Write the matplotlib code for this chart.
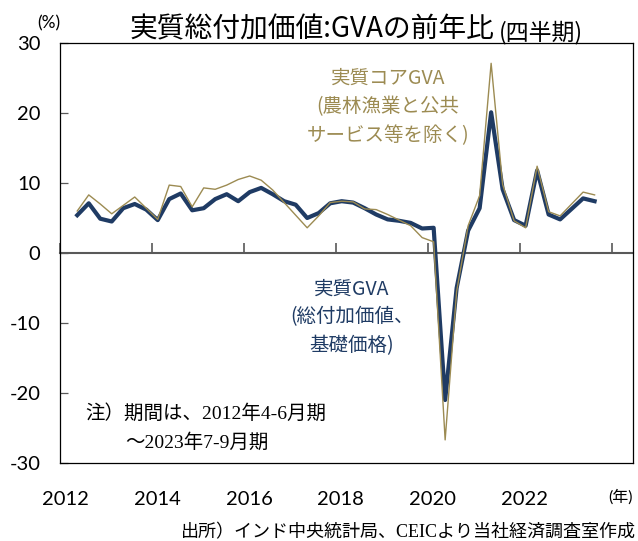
import matplotlib
matplotlib.use('Agg')
import matplotlib.pyplot as plt
import matplotlib.transforms as mtrans
import pandas as pd

# ---- data ----
quarters = pd.period_range('2012Q2', '2023Q3', freq='Q')
gva_real = [5.4, 7.1, 4.9, 4.5, 6.4, 7.0, 6.2, 4.7, 7.7, 8.5,
            6.1, 6.4, 7.7, 8.4, 7.4, 8.7, 9.3, 8.4, 7.4, 6.9,
            5.0, 5.7, 7.1, 7.4, 7.2, 6.4, 5.5, 4.8, 4.6, 4.3,
            3.5, 3.6, -21.0, -5.0, 3.2, 6.4, 20.1, 9.1, 4.7, 3.9,
            11.8, 5.5, 4.8, 6.3, 7.8, 7.4]
gva_core = [6.0, 8.3, 7.0, 5.6, 6.8, 8.0, 6.4, 4.8, 9.7, 9.5,
            6.6, 9.3, 9.1, 9.7, 10.5, 11.0, 10.4, 9.0, 7.2, 5.4,
            3.6, 5.3, 7.2, 7.4, 7.3, 6.3, 6.2, 5.5, 4.7, 3.9,
            2.2, 1.6, -26.7, -5.5, 3.9, 8.2, 27.1, 9.8, 4.6, 3.6,
            12.4, 5.9, 5.3, 7.0, 8.7, 8.3]
x_tick_years = [2012, 2014, 2016, 2018, 2020, 2022]
x_tick_marks = [2012, 2014, 2016, 2018, 2020, 2022, 2024]
y_ticks = [-30, -20, -10, 0, 10, 20, 30]

x = quarters.year + (quarters.quarter - 1) / 4 + 0.125

NAVY = '#1F3B64'
GOLD = '#9C8B52'
JP = 'Noto Sans CJK JP'
LAT = 'Lato'
MIX = ['Liberation Serif', 'Noto Sans CJK JP']

W, H = 638, 541
fig = plt.figure(figsize=(W / 100, H / 100), dpi=100)
ax = fig.add_axes([60 / W, 1 - 463 / H, (633 - 60) / W, (463 - 43) / H])

ax.plot(x, gva_real, color=NAVY, lw=3.0, zorder=3)
ax.plot(x, gva_core, color=GOLD, lw=1.0, zorder=4)

ax.set_xlim(2012, 2024.46)
ax.set_ylim(-30, 30)

for s in ax.spines.values():
    s.set_color('#000000')
    s.set_linewidth(0.9)

ax.set_yticks(y_ticks)
ax.set_yticklabels([str(v) for v in y_ticks], fontfamily=LAT, fontsize=14.5)
ax.tick_params(axis='y', direction='in', length=6, width=0.9, pad=14, color='#595959')

ax.set_xticks(x_tick_years)
ax.set_xticklabels([str(v) for v in x_tick_years], fontfamily=LAT, fontsize=14.5)
ax.tick_params(axis='x', length=0, pad=20)
off = mtrans.ScaledTranslation(5 / 100, 0, fig.dpi_scale_trans)
for lab in ax.get_xticklabels():
    lab.set_transform(lab.get_transform() + off)

# zero axis with upward tick marks
sec = ax.secondary_xaxis(0.5)
sec.set_xticks(x_tick_marks)
sec.tick_params(direction='out', length=7, width=1.2, color='#595959', labeltop=False, labelbottom=False)
for s in sec.spines.values():
    s.set_color('#595959')
    s.set_linewidth(1.5)

def fx(px):
    return px / W

def fy(py):
    return 1 - py / H

# title
t1 = fig.text(fx(130), fy(37), '実質総付加価値:GVAの前年比', fontfamily=JP, fontsize=20,
              ha='left', va='baseline', color='#000000')
ax.annotate('(四半期)', xy=(1, 0), xycoords=t1, xytext=(3, 0), textcoords='offset points',
            fontfamily=JP, fontsize=16.5, ha='left', va='bottom', color='#000000')

fig.text(fx(37), fy(23), '(%)', fontfamily=LAT, fontsize=12.5, ha='left', va='center')
fig.text(fx(633), fy(497), '(年)', fontfamily=[LAT, JP], fontsize=11.5, ha='right', va='center')

fig.text(fx(388), fy(107), '実質コアGVA\n(農林漁業と公共\nサービス等を除く)', fontfamily=JP,
         fontsize=14, color=GOLD, ha='center', va='center', linespacing=1.5)
fig.text(fx(352), fy(317), '実質GVA\n(総付加価値、\n基礎価格)', fontfamily=JP,
         fontsize=14, color=NAVY, ha='center', va='center', linespacing=1.45)

fig.text(fx(85), fy(413), '注）期間は、2012年4-6月期', fontfamily=MIX, fontsize=14,
         ha='left', va='center', color='#000000')
fig.text(fx(125), fy(443), '～2023年7-9月期', fontfamily=MIX, fontsize=14,
         ha='left', va='center', color='#000000')

fig.text(fx(636), fy(533), '出所）インド中央統計局、CEICより当社経済調査室作成', fontfamily=MIX,
         fontsize=13, ha='right', va='center', color='#000000')

fig.savefig('out.png', dpi=100)
